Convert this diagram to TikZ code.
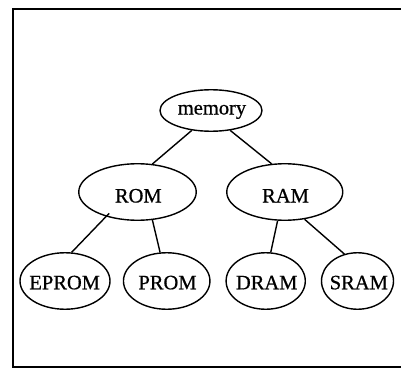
\documentclass[tikz,border=0pt]{standalone}
\usepackage{fontspec}
\setmainfont{Liberation Serif}
\newfontfamily\gvfont{Liberation Serif}[FakeBold=0.7]
\usetikzlibrary{shapes.geometric}
\begin{document}
\begin{tikzpicture}[x=1pt,y=-1pt,
  ell/.style={ellipse, draw, line width=1.4pt, inner sep=0pt, minimum height=56.5pt},
  txt/.style={font=\gvfont\fontsize{20.5}{24}\selectfont, anchor=base, inner sep=0pt},
  edge/.style={line width=1.4pt}]
\useasboundingbox (0,0) rectangle (401,369);
% frame
\coordinate (f1) at (401,9);
\coordinate (f2) at (13,9);
\coordinate (f3) at (13,367);
\coordinate (f4) at (401,367);
\draw[line width=2pt] (f1) -- (f2) -- (f3) -- (f4);
% nodes
\node[ell, minimum width=102pt, minimum height=41.5pt] (memory) at (211,110.5) {};
\node[ell, minimum width=117.5pt] (ROM) at (137.5,192) {};
\node[ell, minimum width=116pt] (RAM) at (284.75,192) {};
\node[ell, minimum width=90pt] (EPROM) at (65,281) {};
\node[ell, minimum width=86.5pt] (PROM) at (166.7,281) {};
\node[ell, minimum width=79.2pt] (DRAM) at (265.7,281) {};
\node[ell, minimum width=72pt] (SRAM) at (357.5,281) {};
% texts
\node[txt] (tmemory) at (212,114.5) {memory};
\node[txt] (tROM) at (138.3,202.5) {ROM};
\node[txt] (tRAM) at (285.5,202.5) {RAM};
\node[txt] (tEPROM) at (64.7,289.3) {EPROM};
\node[txt] (tPROM) at (167.5,289.3) {PROM};
\node[txt] (tDRAM) at (266.7,289.3) {DRAM};
\node[txt] (tSRAM) at (358.8,289.3) {SRAM};
% edges
\draw[edge] (memory.226) -- (ROM.62);
\draw[edge] (memory.314) -- (RAM.115);
\draw[edge, shorten <=-4.6pt] (ROM.218) -- (EPROM.77);
\draw[edge] (ROM.298) -- (PROM.103);
\draw[edge] (RAM.256) -- (DRAM.80);
\draw[edge] (RAM.306.6) -- (SRAM.116);
\end{tikzpicture}
\end{document}
